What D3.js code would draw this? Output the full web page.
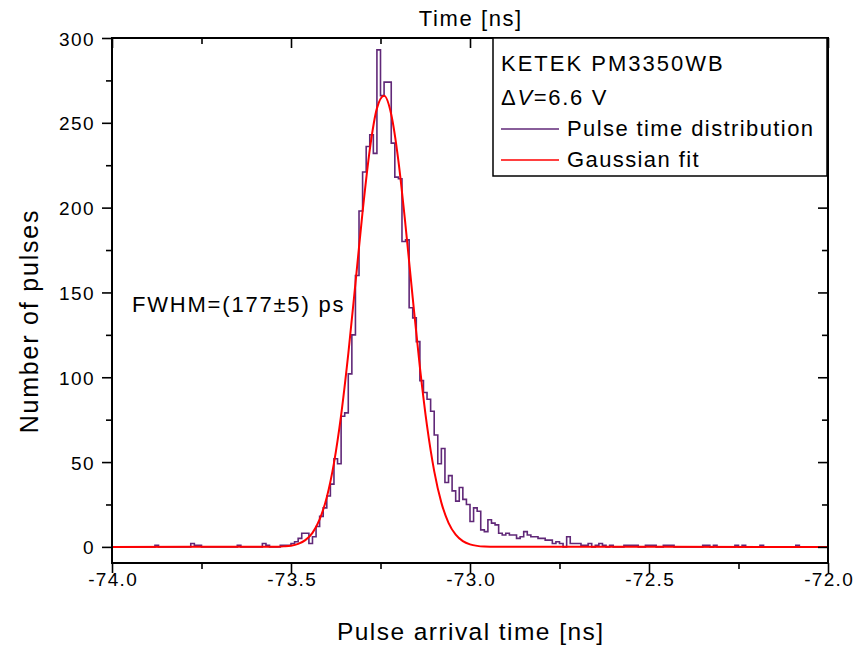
<!DOCTYPE html>
<html>
<head>
<meta charset="utf-8">
<script src="https://cdn.jsdelivr.net/npm/d3@7"></script>
<style>
  html, body { margin: 0; padding: 0; background: #fff; overflow: hidden; }
  svg { display: block; }
  text { font-family: "Liberation Sans", Arial, sans-serif; fill: #000; }
</style>
</head>
<body>
<div id="chart"></div>
<script>
// Histogram of pulse arrival times, 10 ps bins, first bin starts at -74.00 ns
var binStart = -74.0
var binWidth = 0.01
var counts = [
  0, 0, 0, 0, 0, 0, 0, 0, 0, 0, 0, 0, 1, 0, 0, 0, 0, 0, 0, 0,
  0, 0, 2, 1, 1, 0, 0, 0, 0, 0, 0, 0, 0, 0, 0, 1, 0, 0, 0, 0,
  0, 0, 2, 1, 0, 0, 0, 1, 1, 1, 2, 3, 5, 8, 8, 2, 6, 12, 18, 23,
  30, 37, 52, 49, 77, 79, 102, 125, 160, 198, 221, 236, 243, 232, 293, 266, 274, 274, 238, 218,
  217, 180, 181, 141, 135, 121, 98, 91, 87, 80, 66, 49, 58, 38, 42, 33, 27, 35, 28, 25,
  15, 23, 21, 10, 9, 16, 14, 13, 8, 7, 8, 7, 7, 5, 6, 9, 7, 6, 6, 5,
  5, 4, 4, 2, 3, 2, 0, 6, 2, 2, 2, 1, 1, 2, 0, 1, 2, 1, 0, 1,
  0, 0, 0, 1, 1, 1, 1, 0, 0, 1, 1, 1, 0, 0, 1, 1, 1, 0, 0, 0,
  0, 0, 0, 0, 0, 1, 1, 0, 1, 0, 0, 0, 0, 0, 1, 0, 1, 0, 0, 0,
  0, 1, 0, 0, 0, 0, 0, 0, 0, 0, 0, 1, 0, 0, 0, 0, 0, 0, 0, 0
]

// Gaussian fit curve
var fitTime = [-74.0, -73.56, -73.54, -73.52, -73.50, -73.48, -73.46, -73.44, -73.42, -73.40,
  -73.38, -73.36, -73.34, -73.32, -73.30, -73.28, -73.26, -73.24, -73.22, -73.20,
  -73.18, -73.16, -73.14, -73.12, -73.10, -73.08, -73.06, -73.04, -73.02, -73.00,
  -72.98, -72.96, -72.94, -72.92, -72.0]
var fitCount = [0, 0.03, 0.1, 0.3, 0.7, 1.8, 4.0, 8.3, 16.2, 29.3,
  49.4, 77.7, 113.8, 155.3, 197.6, 234.1, 258.5, 265.9, 254.9, 227.6,
  189.3, 146.8, 106.0, 71.3, 44.7, 26.1, 14.2, 7.2, 3.4, 1.5,
  0.6, 0.2, 0.08, 0.03, 0]

var xTicks = [-74.0, -73.5, -73.0, -72.5, -72.0]
var xMinor = [-73.75, -73.25, -72.75, -72.25]
var yTicks = [0, 50, 100, 150, 200, 250, 300]
var yMinor = [25, 75, 125, 175, 225, 275]

var deviceName = "KETEK PM3350WB"
var seriesNames = ["Pulse time distribution", "Gaussian fit"]
var fwhmLabel = "FWHM=(177\u00B15) ps"

// chart dimensions
var width = 854
var height = 650
var margin = {left: 112, right: 26, top: 38, bottom: 87}
var innerWidth = width - margin.left - margin.right
var innerHeight = height - margin.top - margin.bottom

var purple = "#602878"
var red = "#ff0000"
var font = '"Liberation Sans", Arial, sans-serif'

var x = d3.scaleLinear().domain([-74, -72]).range([0, innerWidth])
var y = d3.scaleLinear().domain([-9.5, 300]).range([innerHeight, 0])

var svg = d3.select('#chart').append('svg')
            .attr('width', width)
            .attr('height', height)

var g = svg.append('g')
           .attr('transform', 'translate(' + margin.left + ',' + margin.top + ')')

// histogram as step line
var histPoints = counts.map(function (c, i) { return [binStart + i * binWidth, c] })
histPoints.push([binStart + counts.length * binWidth, counts[counts.length - 1]])

g.append('path')
  .datum(histPoints)
  .attr('fill', 'none')
  .attr('stroke', purple)
  .attr('stroke-width', 1.6)
  .attr('d', d3.line()
      .x(function (d) { return x(d[0]) })
      .y(function (d) { return y(d[1]) })
      .curve(d3.curveStepAfter))

// fit curve
var fitPoints = fitTime.map(function (t, i) { return [t, fitCount[i]] })
g.append('path')
  .datum(fitPoints)
  .attr('fill', 'none')
  .attr('stroke', red)
  .attr('stroke-width', 2)
  .attr('d', d3.line()
      .x(function (d) { return x(d[0]) })
      .y(function (d) { return y(d[1]) })
      .curve(d3.curveMonotoneX))

// frame
g.append('rect')
  .attr('width', innerWidth)
  .attr('height', innerHeight)
  .attr('fill', 'none')
  .attr('stroke', '#000')
  .attr('stroke-width', 2)

// axes
function addAxis (axis, translate) {
  var a = g.append('g').attr('transform', translate).call(axis)
  a.select('.domain').remove()
  a.selectAll('.tick line').attr('stroke', '#000').attr('stroke-width', 1.6)
  return a
}

var bottom = addAxis(d3.axisBottom(x).tickValues(xTicks).tickSize(10)
                     .tickFormat(function (d) { return d.toFixed(1) }),
                     'translate(0,' + innerHeight + ')')
addAxis(d3.axisBottom(x).tickValues(xMinor).tickSize(6).tickFormat(''),
        'translate(0,' + innerHeight + ')')
addAxis(d3.axisTop(x).tickValues(xTicks).tickSize(-10).tickFormat(''), 'translate(0,0)')
addAxis(d3.axisTop(x).tickValues(xMinor).tickSize(-6).tickFormat(''), 'translate(0,0)')

var left = addAxis(d3.axisLeft(y).tickValues(yTicks).tickSize(10), 'translate(0,0)')
addAxis(d3.axisLeft(y).tickValues(yMinor).tickSize(6).tickFormat(''), 'translate(0,0)')
addAxis(d3.axisRight(y).tickValues(yTicks).tickSize(-10).tickFormat(''),
        'translate(' + innerWidth + ',0)')
addAxis(d3.axisRight(y).tickValues(yMinor).tickSize(-6).tickFormat(''),
        'translate(' + innerWidth + ',0)')

bottom.selectAll('.tick text')
  .attr('x', 0.6).attr('y', 23).attr('dy', null)
  .attr('font-size', 19).attr('font-family', font)
  .attr('letter-spacing', 1.3)
  .attr('fill', '#000')

left.selectAll('.tick text')
  .attr('x', -17).attr('y', 7).attr('dy', null)
  .attr('font-size', 19).attr('font-family', font)
  .attr('letter-spacing', 1.4)
  .attr('fill', '#000')

// text helper
function addText (px, py, str, size, anchor, spacing) {
  return svg.append('text')
    .attr('x', px)
    .attr('y', py)
    .attr('text-anchor', anchor)
    .attr('font-size', size)
    .attr('letter-spacing', spacing)
    .text(str)
}

var midX = margin.left + innerWidth / 2
addText(midX + 0.7, 640, 'Pulse arrival time [ns]', 24.5, 'middle', 1.45)
addText(midX + 0.8, 26, 'Time [ns]', 22, 'middle', 1.6)
addText(38, 321, 'Number of pulses', 25, 'middle', 1.8)
  .attr('transform', 'rotate(-90,38,321)')
addText(132, 312, fwhmLabel, 22, 'start', 1.8)

// legend
var lx = 493
var ly = margin.top
svg.append('rect')
  .attr('x', lx).attr('y', ly)
  .attr('width', margin.left + innerWidth - 1 - lx)
  .attr('height', 138)
  .attr('fill', '#fff')
  .attr('stroke', '#000')
  .attr('stroke-width', 1.5)

addText(lx + 8, 71, deviceName, 22, 'start', 2.0)
var dv = addText(lx + 8, 105, '', 22, 'start', 1.7)
dv.append('tspan').text('\u0394')
dv.append('tspan').attr('font-style', 'italic').text('V')
dv.append('tspan').text('=6.6 V')

var legendColors = [purple, red]
seriesNames.forEach(function (name, i) {
  var yy = 129 + i * 31
  svg.append('line')
    .attr('x1', lx + 8).attr('x2', lx + 66)
    .attr('y1', yy).attr('y2', yy)
    .attr('stroke', legendColors[i])
    .attr('stroke-width', 1.5)
  addText(lx + 74, yy + 7, name, 22, 'start', 1.4)
})
</script>
</body>
</html>
